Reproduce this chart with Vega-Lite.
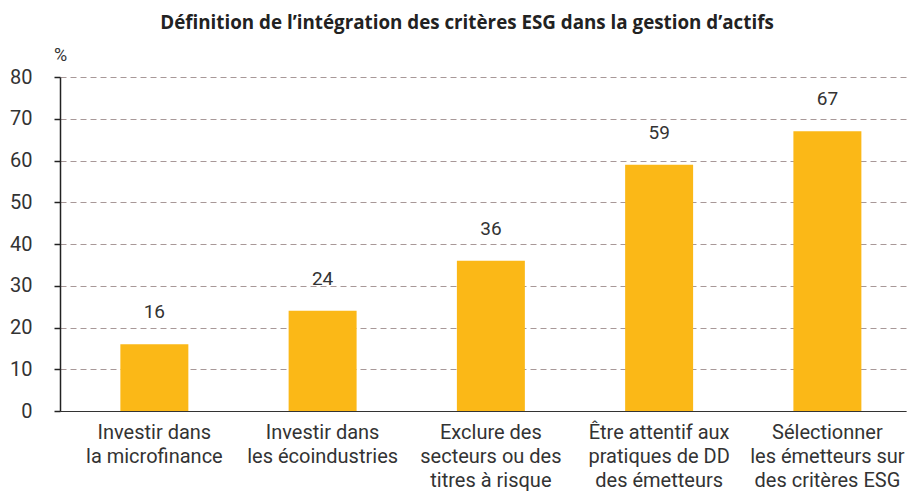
{
  "$schema": "https://vega.github.io/schema/vega-lite/v6.json",
  "autosize": "none",
  "width": 846,
  "height": 334,
  "padding": {"left": 60, "top": 77, "right": 11, "bottom": 84},
  "background": "white",
  "title": {
    "text": "Définition de l’intégration des critères ESG dans la gestion d’actifs",
    "font": "Open Sans",
    "fontSize": 18.8,
    "fontWeight": "bold",
    "color": "#222222",
    "anchor": "middle",
    "frame": "group",
    "baseline": "bottom",
    "offset": -6,
    "dx": -16
  },
  "config": {
    "view": {"stroke": null},
    "font": "Roboto"
  },
  "data": {
    "values": [
      {"critere": "Investir dans\nla microfinance", "valeur": 16},
      {"critere": "Investir dans\nles écoindustries", "valeur": 24},
      {"critere": "Exclure des\nsecteurs ou des\ntitres à risque", "valeur": 36},
      {"critere": "Être attentif aux\npratiques de DD\ndes émetteurs", "valeur": 59},
      {"critere": "Sélectionner\nles émetteurs sur\ndes critères ESG", "valeur": 67}
    ]
  },
  "encoding": {
    "x": {
      "field": "critere",
      "type": "nominal",
      "sort": null,
      "scale": {"paddingInner": 0.596, "paddingOuter": 0.312, "align": 0.575},
      "axis": {
        "title": null,
        "labelAngle": 0,
        "labelExpr": "split(datum.label, '\\n')",
        "labelFontSize": 20,
        "labelLineHeight": 24,
        "labelColor": "#333333",
        "labelPadding": 11,
        "labelBaseline": "top",
        "ticks": false,
        "domainColor": "#333333",
        "domainWidth": 1.2
      }
    },
    "y": {
      "field": "valeur",
      "type": "quantitative",
      "scale": {"domain": [0, 80], "nice": false},
      "axis": {
        "values": [0, 10, 20, 30, 40, 50, 60, 70, 80],
        "title": "%",
        "titleAngle": 0,
        "titleX": 0,
        "titleY": -22,
        "titleAlign": "center",
        "titleBaseline": "middle",
        "titleFontSize": 18,
        "titleFontWeight": "normal",
        "titleColor": "#333333",
        "labelFontSize": 20,
        "labelColor": "#333333",
        "labelPadding": 22,
        "tickSize": 6,
        "tickColor": "#222222",
        "tickWidth": 1.5,
        "domainColor": "#222222",
        "domainWidth": 1.5,
        "grid": true,
        "gridColor": "#a89898",
        "gridDash": [6, 4],
        "gridWidth": 1
      }
    }
  },
  "layer": [
    {
      "mark": {"type": "bar", "color": "#FBB817"}
    },
    {
      "mark": {"type": "text", "fontSize": 19, "color": "#333333", "baseline": "middle", "dy": -32},
      "encoding": {"text": {"field": "valeur", "type": "quantitative"}}
    }
  ]
}
